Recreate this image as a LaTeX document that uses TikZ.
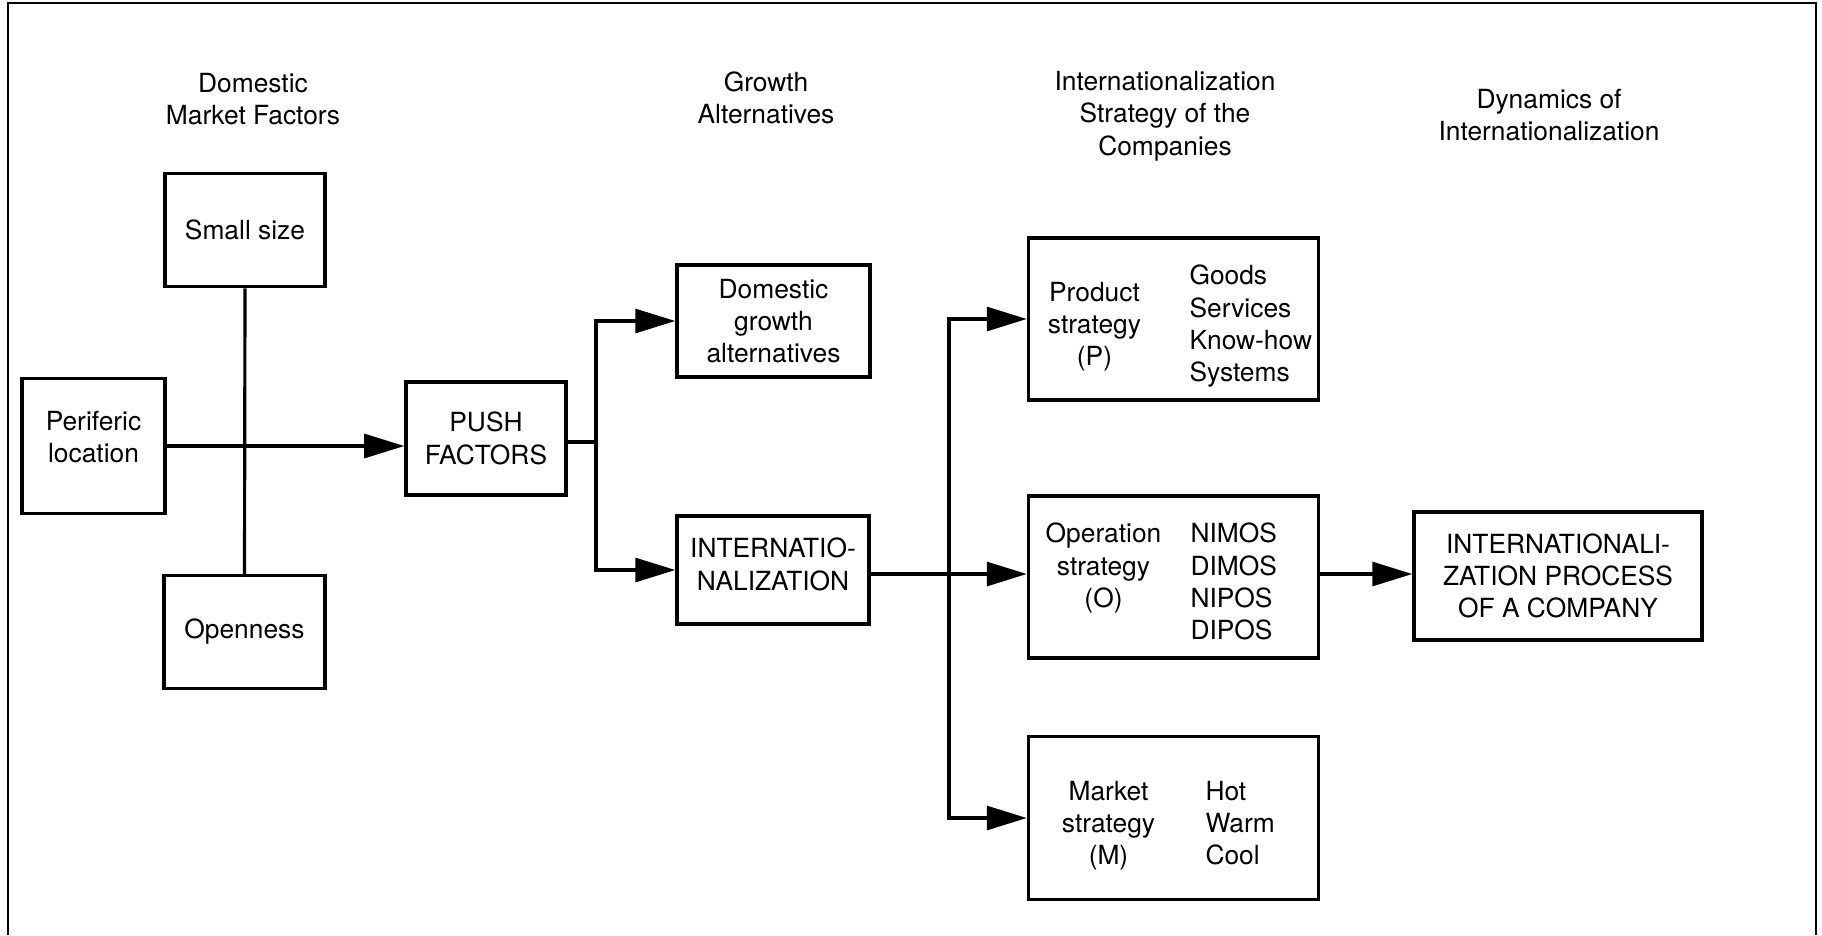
\documentclass[tikz,border=0pt]{standalone}
\usepackage{fontspec}
\setmainfont{TeX Gyre Heros}
\usetikzlibrary{arrows.meta}

\tikzset{
  blk/.style={draw,line width=1pt,align=center,inner sep=0pt},
  hdr/.style={align=center,inner sep=0pt},
  arr/.style={-{Triangle[length=4mm,width=2.4mm]}}
}
% two columns in a strategy box: [pos]{left width}{gap}{left}{right}
\newcommand{\stratcols}[5][c]{\raisebox{0pt}[\dimexpr\height+0.16cm\relax]{\makebox[2.88cm][l]{\makebox[#2]{\begin{tabular}[#1]{@{}c@{}}#4\end{tabular}}\hspace{#3}\begin{tabular}[#1]{@{}l@{}}#5\end{tabular}}}}

\begin{document}
\begin{tikzpicture}[font=\fontsize{7.5}{9.2}\selectfont,line width=0.9pt]
\useasboundingbox (0,0) rectangle (18.22,-9.35);
\draw[line width=0.7pt] (0.08,-9.35) -- (0.08,-0.03) -- (18.16,-0.03) -- (18.16,-9.35);

% headings
\node[hdr] (h1) at (2.53,-0.99) {Domestic\\Market Factors};
\node[hdr] (h2) at (7.66,-0.98) {Growth\\Alternatives};
\node[hdr] (h3) at (11.65,-1.16) {Internationalization\\Strategy of the\\Companies};
\node[hdr] (h4) at (15.49,-1.15) {Dynamics of\\Internationalization};

% domestic market factors
\node[blk,minimum width=1.6cm,minimum height=1.13cm] (small) at (2.45,-2.30) {Small size};
\node[blk,minimum width=1.43cm,minimum height=1.35cm,text depth=0.18cm] (peri) at (0.935,-4.46) {Periferic\\location};
\node[blk,minimum width=1.61cm,minimum height=1.13cm] (open) at (2.445,-6.32) {Openness};
\node[blk,minimum width=1.6cm,minimum height=1.13cm] (push) at (4.86,-4.385) {PUSH\\FACTORS};
\draw (small.south) -- (open.north);
\draw[arr] (peri.east) -- (peri.east -| push.west);

% growth alternatives
\node[blk,minimum width=1.93cm,minimum height=1.12cm] (dom) at (7.735,-3.21) {Domestic\\growth\\alternatives};
\node[blk,minimum width=1.92cm,minimum height=1.08cm,text depth=0.12cm] (intl) at (7.73,-5.70) {INTERNATIO-\\NALIZATION};
\coordinate (fork) at (5.96,-4.42);
\draw (push.east |- fork) -- (fork);
\draw[arr] (fork) |- (dom.west);
\draw[arr] (fork) |- (intl.west);

% strategy of the companies
\node[blk,minimum width=2.9cm,minimum height=1.62cm] (prod) at (11.735,-3.19) {\stratcols{1.30cm}{0.30cm}{Product\\strategy\\(P)}{Goods\\Services\\Know-how\\Systems}};
\node[blk,minimum width=2.9cm,minimum height=1.62cm] (ope) at (11.735,-5.77) {\stratcols[t]{1.48cm}{0.13cm}{Operation\\strategy\\(O)}{NIMOS\\DIMOS\\NIPOS\\DIPOS}};
\node[blk,minimum width=2.9cm,minimum height=1.63cm] (mkt) at (11.735,-8.18) {\stratcols{1.58cm}{0.18cm}{Market\\strategy\\(M)}{Hot\\Warm\\Cool}};
\coordinate (fork2) at (9.49,-5.74);
\draw[arr] (intl.east |- fork2) -- (fork2 -| ope.west);
\draw[arr] (fork2) |- (prod.west);
\draw[arr] (fork2) |- (mkt.west);

% dynamics
\node[blk,minimum width=2.88cm,minimum height=1.28cm] (proc) at (15.58,-5.76) {INTERNATIONALI-\\ZATION PROCESS\\OF A COMPANY};
\draw[arr] (ope.east |- fork2) -- (fork2 -| proc.west);
\end{tikzpicture}
\end{document}
